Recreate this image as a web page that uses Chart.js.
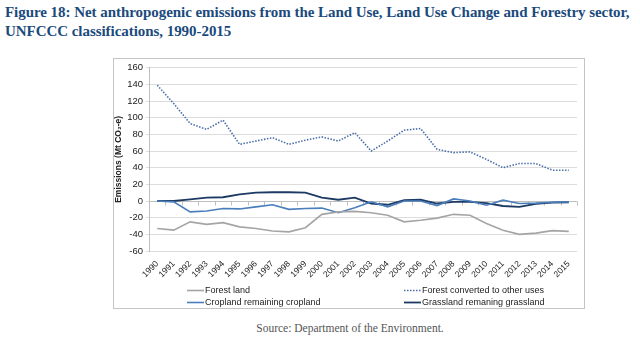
<!DOCTYPE html>
<html>
<head>
<meta charset="utf-8">
<script src="https://cdn.jsdelivr.net/npm/chart.js@4.4.0/dist/chart.umd.min.js"></script>
<style>
  body { margin: 0; background: #fff; width: 640px; height: 342px; position: relative; overflow: hidden; }
  #title { position: absolute; left: 5px; top: 3px; font-family: "Liberation Serif", serif; font-weight: bold;
           font-size: 15px; line-height: 19px; color: #1b4a7c; letter-spacing: -0.05px; }
  #box { position: absolute; left: 113px; top: 58px; width: 470px; height: 249px; border: 1px solid #c4c4c4; }
  #source { position: absolute; left: 0; width: 700px; text-align: center; top: 322px;
            font-family: "Liberation Serif", serif; font-size: 11.5px; color: #555; }
</style>
</head>
<body>
<div id="title">Figure 18: Net anthropogenic emissions from the Land Use, Land Use Change and Forestry sector,<br>UNFCCC classifications, 1990-2015</div>
<div id="box"><canvas id="chart"></canvas></div>
<div id="source">Source: Department of the Environment.</div>
<script>
const years = ['1990','1991','1992','1993','1994','1995','1996','1997','1998','1999','2000','2001','2002',
               '2003','2004','2005','2006','2007','2008','2009','2010','2011','2012','2013','2014','2015'];
const forestLand = [-33,-35,-25,-28,-26,-31,-33,-36,-37,-32,-16,-13,-12.5,-14,-17,-25,-23,-20.5,-16,-17,-27,-35,-40,-38.5,-35.5,-36.5];
const forestConverted = [139,117,93,86,97,68,72,76,68,73,77,72,82,60,72,85,87,62,58,59,50,40,45,45,37,37];
const cropland = [0,-1,-13,-12,-9,-9.5,-7,-4.5,-10,-9,-8.5,-14,-8,-1,-7,0,0,-5.5,2.5,0,-5,1,-3,-2.5,-1.5,-1];
const grassland = [0,0,2,4,4.5,8,10,10.5,10.5,10,4,1.5,4,-3,-4.5,1,1.5,-3,-1,-1,-2.5,-6,-7,-3.5,-2,-1.5];
const yTicks = { min: -60, max: 160, step: 20 };

// two-column legend in the bottom of the box
const legendSpots = [[73, 231], [290, 231], [73, 243], [290, 243]];
const legendOrder = [0, 1, 2, 3];

const zeroAxis = {
  id: 'zeroAxis',
  beforeDatasetsDraw(chart) {
    const { ctx, scales: { x, y } } = chart;
    const y0 = Math.round(y.getPixelForValue(0)) + 0.5;
    ctx.save();
    ctx.strokeStyle = '#bfbfbf';
    ctx.lineWidth = 1;
    ctx.beginPath();
    ctx.moveTo(x.left, y0); ctx.lineTo(x.right, y0);
    const n = years.length;
    for (let i = 0; i <= n; i++) {
      const px = Math.round(x.left + i * (x.right - x.left) / n) + 0.5;
      ctx.moveTo(px, y0); ctx.lineTo(px, y0 + 4);
    }
    ctx.stroke();
    ctx.restore();
  }
};

const boxLegend = {
  id: 'boxLegend',
  afterDraw(chart) {
    const ctx = chart.ctx;
    ctx.save();
    ctx.font = '9px "Liberation Sans", sans-serif';
    ctx.textBaseline = 'middle';
    legendOrder.forEach((di, k) => {
      const ds = chart.data.datasets[di];
      const [lx, ly] = legendSpots[k];
      ctx.strokeStyle = ds.borderColor;
      ctx.lineWidth = ds.borderWidth;
      ctx.setLineDash(ds.borderDash || []);
      ctx.beginPath();
      ctx.moveTo(lx, ly + 0.5); ctx.lineTo(lx + 17, ly + 0.5);
      ctx.stroke();
      ctx.setLineDash([]);
      ctx.fillStyle = '#222';
      ctx.fillText(ds.label, lx + 18, ly + 0.5);
    });
    ctx.restore();
  }
};

new Chart(document.getElementById('chart'), {
  type: 'line',
  data: {
    labels: years,
    datasets: [
      { label: 'Forest land', data: forestLand, borderColor: '#a5a5a5', borderWidth: 1.6 },
      { label: 'Forest converted to other uses', data: forestConverted, borderColor: '#4a6fa8', borderWidth: 1.6, borderDash: [1.5, 1.5] },
      { label: 'Cropland remaining cropland', data: cropland, borderColor: '#4a7ebb', borderWidth: 1.6 },
      { label: 'Grassland remaning grassland', data: grassland, borderColor: '#1c3a63', borderWidth: 1.8 }
    ]
  },
  options: {
    responsive: true,
    maintainAspectRatio: false,
    animation: false,
    elements: { point: { radius: 0 }, line: { tension: 0 } },
    layout: { padding: { left: 0, right: 7, top: 6, bottom: 28 } },
    plugins: { legend: { display: false }, tooltip: { enabled: false } },
    scales: {
      x: {
        offset: true,
        grid: { display: false },
        border: { display: false },
        ticks: { color: '#222', font: { size: 8.5, family: '"Liberation Sans", sans-serif' },
                 maxRotation: 45, minRotation: 45, autoSkip: false, padding: 0 },
        afterFit: (s) => { s.height = 29; }
      },
      y: {
        min: yTicks.min, max: yTicks.max,
        grid: { color: '#dcdcdc', tickLength: 3, drawTicks: true },
        border: { color: '#bfbfbf' },
        ticks: { stepSize: yTicks.step, color: '#222', padding: 3,
                 font: { size: 9.5, family: '"Liberation Sans", sans-serif' } },
        title: { display: true, text: 'Emissions (Mt CO\u2082-e)', color: '#222', padding: 0,
                 font: { size: 8.5, weight: 'bold', family: '"Liberation Sans", sans-serif' } },
        afterFit: (s) => { s.width = 35; }
      }
    }
  },
  plugins: [zeroAxis, boxLegend]
});
</script>
</body>
</html>
